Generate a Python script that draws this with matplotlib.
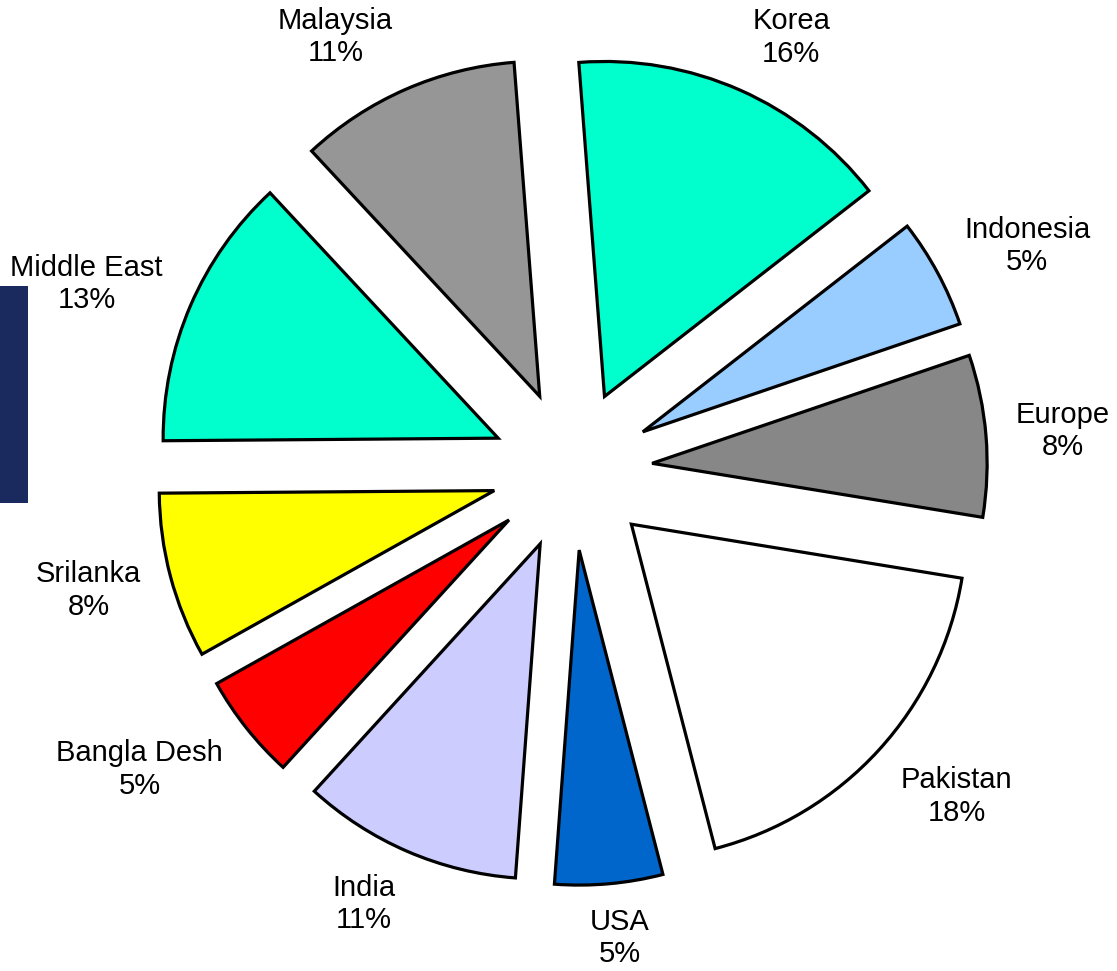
import matplotlib
matplotlib.use('Agg')
import matplotlib.pyplot as plt
import numpy as np
from matplotlib.patches import Rectangle

# slices in clockwise order, starting just left of 12 o'clock
countries = ['Korea', 'Indonesia', 'Europe', 'Pakistan', 'USA', 'India',
             'Bangla Desh', 'Srilanka', 'Middle East', 'Malaysia']
shares = [15.7, 5.3, 7.8, 18.4, 5.2, 10.6, 5.1, 8.0, 13.2, 10.7]
colors = ['#00FFCC', '#99CCFF', '#878787', '#FFFFFF', '#0066CC', '#CCCCFF',
          '#FF0000', '#FFFF00', '#00FFCC', '#969696']

plt.rcParams['font.family'] = ['Liberation Sans', 'DejaVu Sans']

W, H = 1117, 971
CX, CY, R = 572, 470, 335  # pie centre and radius in pixels
EXPLODE = 0.24
GAP_X, GAP_Y = 1.33, 1.313  # where the label box's inner corner sits

fig = plt.figure(figsize=(W / 100, H / 100), dpi=100)
ax = fig.add_axes([0, 0, 1, 1])

# dark strip from the slide background at the left edge
fig.patches.append(Rectangle((0, 0.482), 0.025, 0.2235, transform=fig.transFigure,
                             facecolor='#1B2A5E', edgecolor='none', zorder=0))

labels = [f'{c}\n{round(s):d}%' for c, s in zip(countries, shares)]
wedges, texts = ax.pie(shares, explode=[EXPLODE] * len(shares), colors=colors,
                       startangle=94.4, counterclock=False, labels=labels,
                       labeldistance=1.3,
                       wedgeprops=dict(edgecolor='black', linewidth=2.3),
                       textprops=dict(fontsize=21, color='black', linespacing=1.2))

ax.set_aspect('auto')
ax.set_xlim(-CX / R, (W - CX) / R)
ax.set_ylim(-(H - CY) / R, CY / R)
ax.axis('off')

# Excel-style "outside end": inner corner of the text box sits on the mid ray
fig.canvas.draw()
rend = fig.canvas.get_renderer()
inv = ax.transData.inverted()
for w, t in zip(wedges, texts):
    mid = np.deg2rad((w.theta1 + w.theta2) / 2)
    t.set_ha('center')
    t.set_va('center')
    t.set_multialignment('center')
    bb = t.get_window_extent(rend).transformed(inv)
    c, s = np.cos(mid), np.sin(mid)
    gx = np.clip(3 * c, -1, 1)
    gy = np.sign(s) * min(1, abs(s) + max(0, abs(s) - 0.45) * 1.4)
    x = GAP_X * c + bb.width / 2 * gx
    y = GAP_Y * s + bb.height / 2 * gy
    t.set_position((x, y))

fig.savefig('out.png', dpi=100)
